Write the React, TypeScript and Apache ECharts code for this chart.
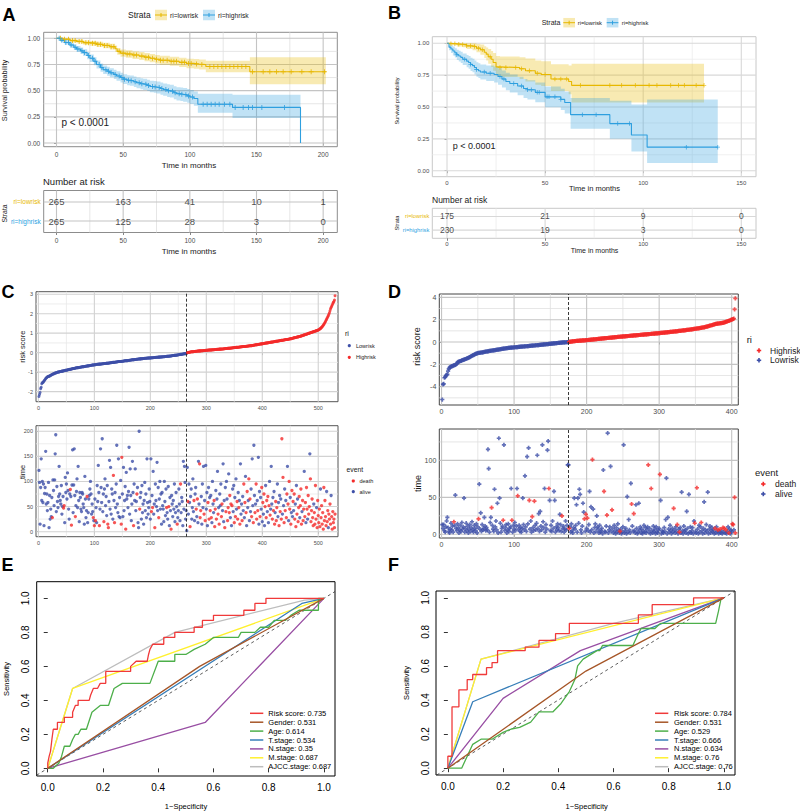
import React, { useEffect, useRef } from "react";
import * as echarts from "echarts";

const FONT = '"Liberation Sans", Arial, Helvetica, sans-serif';
const ORANGE = "#E7B800";
const BLUE = "#2E9FDF";
const ORANGE_F = "rgba(231,184,0,0.3)";
const BLUE_F = "rgba(46,159,223,0.3)";
const SRED = "#F42A2A";
const SBLUE = "#3D4FA8";

// ---------- Panel A: KM (TCGA) ----------
const aLowT = [0, 5, 10, 15, 20, 25, 30, 35, 40, 44, 45.5, 48, 52, 57, 62, 66, 70, 74, 77.5, 85, 92, 97.5, 103, 107, 112, 145];
const aLowS = [1, 0.99, 0.978, 0.97, 0.958, 0.952, 0.942, 0.932, 0.92, 0.9, 0.875, 0.858, 0.85, 0.84, 0.83, 0.82, 0.81, 0.8, 0.79, 0.78, 0.77, 0.76, 0.755, 0.75, 0.73, 0.68];
const aLowLo = [1, 0.978, 0.962, 0.952, 0.938, 0.928, 0.917, 0.905, 0.892, 0.868, 0.842, 0.823, 0.814, 0.803, 0.792, 0.781, 0.77, 0.759, 0.748, 0.737, 0.726, 0.715, 0.708, 0.702, 0.675, 0.56];
const aLowHi = [1, 1, 0.994, 0.988, 0.978, 0.975, 0.967, 0.958, 0.948, 0.932, 0.908, 0.893, 0.886, 0.877, 0.868, 0.859, 0.85, 0.841, 0.832, 0.823, 0.814, 0.805, 0.802, 0.798, 0.785, 0.82];
const aLowEnd = 202;
const aLowCens = [3, 6, 9, 12, 14, 17, 19, 22, 24, 27, 29, 31, 33, 36, 38, 41, 43, 47, 50, 53, 55, 58, 60, 64, 67, 69, 72, 75, 78, 80, 83, 86, 88, 90, 94, 96, 99, 101, 105, 109, 115, 118, 121, 124, 127, 130, 133, 136, 139, 142, 147, 155, 160, 165, 170, 176, 184, 191, 201];

const aHighT = [0, 3, 6, 10, 13, 15, 18, 20, 23, 25, 28, 30, 33, 35, 38, 40, 43, 45, 48, 50, 53, 55, 58, 60, 63, 65, 68, 70, 73, 75, 78, 80, 83, 85, 88, 90, 93, 95, 98, 100, 103, 106, 132, 183];
const aHighS = [1, 0.98, 0.96, 0.936, 0.915, 0.898, 0.88, 0.863, 0.835, 0.81, 0.78, 0.75, 0.72, 0.7, 0.685, 0.67, 0.655, 0.64, 0.625, 0.61, 0.6, 0.595, 0.585, 0.575, 0.566, 0.56, 0.55, 0.54, 0.535, 0.53, 0.52, 0.51, 0.5, 0.495, 0.48, 0.47, 0.465, 0.46, 0.45, 0.44, 0.425, 0.37, 0.34, 0];
const aHighLo = [1, 0.965, 0.94, 0.912, 0.888, 0.869, 0.849, 0.83, 0.8, 0.774, 0.742, 0.711, 0.68, 0.659, 0.643, 0.627, 0.611, 0.595, 0.579, 0.563, 0.552, 0.546, 0.535, 0.524, 0.514, 0.507, 0.496, 0.485, 0.479, 0.473, 0.462, 0.451, 0.44, 0.434, 0.418, 0.407, 0.401, 0.395, 0.384, 0.373, 0.357, 0.29, 0.24, 0];
const aHighHi = [1, 0.995, 0.98, 0.96, 0.942, 0.927, 0.911, 0.896, 0.87, 0.846, 0.818, 0.789, 0.76, 0.741, 0.727, 0.713, 0.699, 0.685, 0.671, 0.657, 0.648, 0.644, 0.635, 0.626, 0.618, 0.613, 0.604, 0.595, 0.591, 0.587, 0.578, 0.569, 0.56, 0.556, 0.542, 0.533, 0.529, 0.525, 0.516, 0.507, 0.493, 0.47, 0.46, 0];
const aHighEnd = 183;
const aHighCens = [2, 4, 7, 9, 11, 14, 16, 19, 21, 24, 27, 29, 32, 34, 37, 39, 41, 44, 47, 49, 51, 54, 56, 59, 62, 64, 67, 69, 72, 74, 77, 79, 82, 84, 87, 89, 92, 94, 97, 99, 102, 110, 113, 116, 119, 122, 126, 130, 134, 140, 144, 147, 154, 171];

const aTblT = [0, 50, 100, 150, 200];
const aTblLow = [265, 163, 41, 10, 1];
const aTblHigh = [265, 125, 28, 3, 0];

// ---------- Panel B: KM (validation) ----------
const bLowT = [0, 2, 5, 8, 10, 13, 15, 17, 19, 20, 21, 22.5, 23.5, 25, 27, 37, 40, 45, 48, 53, 62, 63.5];
const bLowS = [1, 0.997, 0.993, 0.99, 0.98, 0.975, 0.962, 0.95, 0.93, 0.915, 0.895, 0.875, 0.85, 0.815, 0.81, 0.8, 0.785, 0.765, 0.755, 0.72, 0.7, 0.67];
const bLowLo = [1, 0.985, 0.975, 0.97, 0.955, 0.945, 0.93, 0.91, 0.885, 0.865, 0.84, 0.815, 0.785, 0.745, 0.735, 0.72, 0.7, 0.675, 0.665, 0.625, 0.6, 0.535];
const bLowHi = [1, 1, 1, 1, 1, 1, 0.995, 0.99, 0.978, 0.968, 0.955, 0.94, 0.925, 0.9, 0.897, 0.89, 0.88, 0.865, 0.86, 0.835, 0.825, 0.84];
const bLowEnd = 131;
const bLowCens = [2, 4, 6, 8, 10, 12, 14, 16, 18, 22, 27, 30, 35, 38, 42, 46, 50, 55, 58, 61, 68, 83, 89, 96, 103, 107, 114, 118, 121, 127, 131];

const bHighT = [0, 1, 2, 3, 4, 5, 6, 7, 8, 10, 11, 12, 13, 14, 15, 16, 17, 20, 24, 26, 28, 30, 32, 36, 39, 41, 45, 50, 58, 60, 63, 83, 94, 102];
const bHighS = [1, 0.97, 0.955, 0.94, 0.925, 0.91, 0.9, 0.89, 0.875, 0.86, 0.85, 0.835, 0.825, 0.81, 0.795, 0.785, 0.775, 0.765, 0.755, 0.74, 0.72, 0.7, 0.685, 0.665, 0.645, 0.635, 0.615, 0.58, 0.56, 0.535, 0.44, 0.37, 0.28, 0.185];
const bHighLo = [1, 0.945, 0.925, 0.905, 0.888, 0.87, 0.858, 0.846, 0.829, 0.812, 0.8, 0.783, 0.772, 0.755, 0.738, 0.727, 0.716, 0.704, 0.692, 0.675, 0.653, 0.631, 0.614, 0.592, 0.57, 0.559, 0.537, 0.499, 0.477, 0.45, 0.33, 0.25, 0.15, 0.06];
const bHighHi = [1, 0.995, 0.985, 0.975, 0.962, 0.95, 0.942, 0.934, 0.921, 0.908, 0.9, 0.887, 0.878, 0.865, 0.852, 0.843, 0.834, 0.826, 0.818, 0.805, 0.787, 0.769, 0.756, 0.738, 0.72, 0.711, 0.693, 0.661, 0.643, 0.62, 0.57, 0.55, 0.52, 0.56];
const bHighEnd = 138;
const bHighCens = [5, 9, 12, 15, 19, 22, 27, 29, 34, 38, 41, 43, 46, 47, 51, 52, 55, 58, 69, 76, 87, 93, 122, 138];

const bTblT = [0, 50, 100, 150];
const bTblLow = [175, 21, 9, 0];
const bTblHigh = [230, 19, 3, 0];

// ---------- Panel C: risk score / survival time (TCGA) ----------
const cLowCount = 265;
const cRisk = [
  -2.25, -2.15, -2.05, -1.85, -1.78, -1.6, -1.55, -1.53, -1.5, -1.46,
  -1.42, -1.38, -1.33, -1.3, -1.27, -1.25, -1.23, -1.22, -1.21, -1.2,
  -1.18, -1.16, -1.15, -1.13, -1.12, -1.1, -1.09, -1.08, -1.06, -1.05,
  -1.04, -1.03, -1.02, -1.01, -1.0, -0.99, -0.99, -0.98, -0.97, -0.97,
  -0.96, -0.95, -0.95, -0.94, -0.93, -0.93, -0.92, -0.91, -0.91, -0.9,
  -0.89, -0.89, -0.88, -0.87, -0.87, -0.86, -0.85, -0.85, -0.84, -0.83,
  -0.83, -0.82, -0.81, -0.81, -0.8, -0.79, -0.79, -0.78, -0.78, -0.77,
  -0.77, -0.76, -0.76, -0.75, -0.75, -0.74, -0.74, -0.73, -0.73, -0.72,
  -0.72, -0.71, -0.71, -0.7, -0.7, -0.69, -0.69, -0.68, -0.68, -0.67,
  -0.67, -0.66, -0.66, -0.65, -0.65, -0.64, -0.64, -0.63, -0.63, -0.62,
  -0.62, -0.62, -0.61, -0.61, -0.6, -0.6, -0.6, -0.59, -0.59, -0.59,
  -0.58, -0.58, -0.58, -0.57, -0.57, -0.57, -0.56, -0.56, -0.56, -0.56,
  -0.55, -0.55, -0.54, -0.54, -0.54, -0.53, -0.53, -0.52, -0.52, -0.52,
  -0.51, -0.51, -0.5, -0.5, -0.5, -0.49, -0.49, -0.48, -0.48, -0.48,
  -0.47, -0.47, -0.46, -0.46, -0.46, -0.45, -0.45, -0.45, -0.44, -0.44,
  -0.44, -0.43, -0.43, -0.42, -0.42, -0.42, -0.41, -0.41, -0.41, -0.4,
  -0.4, -0.39, -0.39, -0.39, -0.38, -0.38, -0.37, -0.37, -0.37, -0.36,
  -0.36, -0.35, -0.35, -0.35, -0.34, -0.34, -0.34, -0.33, -0.33, -0.33,
  -0.32, -0.32, -0.32, -0.31, -0.31, -0.31, -0.3, -0.3, -0.3, -0.29,
  -0.29, -0.29, -0.29, -0.28, -0.28, -0.28, -0.28, -0.27, -0.27, -0.27,
  -0.27, -0.26, -0.26, -0.26, -0.26, -0.25, -0.25, -0.25, -0.25, -0.24,
  -0.24, -0.24, -0.24, -0.23, -0.23, -0.23, -0.23, -0.22, -0.22, -0.22,
  -0.22, -0.21, -0.21, -0.21, -0.21, -0.2, -0.2, -0.2, -0.19, -0.19,
  -0.19, -0.18, -0.18, -0.18, -0.17, -0.17, -0.17, -0.16, -0.16, -0.15,
  -0.15, -0.15, -0.14, -0.14, -0.13, -0.13, -0.13, -0.12, -0.12, -0.11,
  -0.11, -0.1, -0.1, -0.09, -0.09, -0.08, -0.08, -0.07, -0.07, -0.06,
  -0.06, -0.05, -0.05, -0.04, -0.03,
  0.0, 0.01, 0.01, 0.02, 0.02, 0.03, 0.03, 0.04, 0.04, 0.05,
  0.05, 0.05, 0.06, 0.06, 0.06, 0.07, 0.07, 0.07, 0.08, 0.08,
  0.08, 0.09, 0.09, 0.09, 0.09, 0.1, 0.1, 0.1, 0.1, 0.11,
  0.11, 0.11, 0.11, 0.12, 0.12, 0.12, 0.12, 0.13, 0.13, 0.13,
  0.13, 0.14, 0.14, 0.14, 0.14, 0.15, 0.15, 0.15, 0.15, 0.16,
  0.16, 0.16, 0.16, 0.17, 0.17, 0.17, 0.17, 0.18, 0.18, 0.18,
  0.18, 0.19, 0.19, 0.19, 0.19, 0.2, 0.2, 0.2, 0.21, 0.21,
  0.21, 0.21, 0.22, 0.22, 0.22, 0.23, 0.23, 0.23, 0.24, 0.24,
  0.24, 0.25, 0.25, 0.25, 0.26, 0.26, 0.26, 0.27, 0.27, 0.27,
  0.28, 0.28, 0.28, 0.29, 0.29, 0.29, 0.3, 0.3, 0.3, 0.31,
  0.31, 0.31, 0.32, 0.32, 0.32, 0.33, 0.33, 0.33, 0.34, 0.34,
  0.34, 0.35, 0.35, 0.35, 0.36, 0.36, 0.37, 0.37, 0.38, 0.38,
  0.39, 0.39, 0.4, 0.4, 0.41, 0.41, 0.42, 0.42, 0.43, 0.43,
  0.44, 0.44, 0.45, 0.45, 0.46, 0.46, 0.47, 0.47, 0.48, 0.48,
  0.49, 0.49, 0.5, 0.5, 0.51, 0.51, 0.52, 0.52, 0.53, 0.53,
  0.54, 0.54, 0.55, 0.55, 0.56, 0.56, 0.57, 0.57, 0.58, 0.58,
  0.59, 0.59, 0.6, 0.6, 0.61, 0.61, 0.62, 0.62, 0.63, 0.63,
  0.64, 0.64, 0.65, 0.65, 0.66, 0.66, 0.67, 0.67, 0.68, 0.68,
  0.69, 0.69, 0.7, 0.7, 0.71, 0.72, 0.72, 0.73, 0.74, 0.74,
  0.76, 0.76, 0.77, 0.78, 0.78, 0.79, 0.8, 0.8, 0.81, 0.82,
  0.83, 0.83, 0.84, 0.85, 0.86, 0.87, 0.88, 0.89, 0.9, 0.91,
  0.92, 0.93, 0.94, 0.95, 0.96, 0.97, 0.98, 0.99, 1.0, 1.01,
  1.02, 1.03, 1.04, 1.05, 1.06, 1.07, 1.08, 1.09, 1.1, 1.11,
  1.12, 1.13, 1.14, 1.15, 1.16, 1.18, 1.2, 1.22, 1.24, 1.27,
  1.3, 1.33, 1.37, 1.41, 1.45, 1.5, 1.55, 1.6, 1.66, 1.72,
  1.78, 1.84, 1.9, 1.97, 2.05, 2.15, 2.25, 2.32, 2.38, 2.45,
  2.52, 2.58, 2.63, 2.7, 2.92,
];
const cTime = [
  122, 98, 15, 88, 145, 62, 100, 58, 95, 12,
  76, 88, 160, 55, 75, 42, 58, 98, 8, 72,
  25, 45, 30, 68, 28, 103, 82, 52, 103, 155,
  193, 40, 90, 60, 48, 70, 130, 75, 62, 55,
  92, 35, 50, 70, 47, 52, 18, 108, 78, 95,
  65, 117, 82, 45, 25, 75, 84, 70, 13, 93,
  163, 38, 93, 165, 72, 30, 52, 80, 105, 48,
  130, 62, 20, 78, 68, 45, 40, 78, 75, 55,
  48, 15, 110, 65, 28, 42, 70, 18, 38, 65,
  72, 85, 100, 75, 35, 55, 40, 28, 22, 12,
  65, 22, 48, 18, 92, 60, 132, 78, 12, 45,
  165, 88, 58, 185, 40, 75, 20, 85, 105, 52,
  70, 32, 92, 15, 8, 60, 142, 45, 128, 35,
  85, 75, 25, 112, 62, 18, 78, 48, 95, 172,
  55, 38, 145, 30, 68, 28, 102, 15, 148, 75,
  30, 128, 42, 62, 90, 5, 118, 65, 72, 48,
  80, 168, 35, 125, 72, 22, 55, 140, 78, 12,
  95, 62, 125, 42, 60, 75, 88, 18, 8, 200,
  45, 68, 78, 25, 92, 38, 55, 15, 62, 98,
  42, 75, 28, 145, 58, 35, 48, 85, 60, 25,
  145, 40, 72, 48, 120, 35, 55, 8, 95, 62,
  50, 138, 42, 88, 28, 65, 100, 45, 75, 15,
  78, 52, 45, 20, 100, 60, 32, 85, 48, 38,
  25, 90, 50, 12, 68, 42, 5, 72, 55, 30,
  62, 45, 95, 20, 38, 78, 50, 15, 28, 42,
  85, 55, 22, 95, 38, 68, 60, 12, 140, 45,
  130, 98, 25, 42, 2,
  128, 60, 35, 95, 58, 10, 70, 85, 25, 48,
  105, 40, 62, 22, 75, 88, 45, 30, 65, 18,
  140, 55, 135, 28, 42, 70, 15, 95, 48, 130,
  35, 62, 22, 132, 45, 78, 12, 58, 88, 25,
  68, 42, 72, 28, 18, 100, 55, 38, 62, 10,
  45, 82, 25, 65, 120, 35, 48, 15, 75, 52,
  95, 30, 55, 42, 135, 20, 62, 8, 88, 40,
  100, 65, 22, 48, 115, 38, 72, 28, 55, 12,
  52, 85, 40, 92, 18, 68, 30, 105, 45, 60,
  25, 78, 48, 62, 15, 135, 35, 55, 22, 70,
  42, 95, 28, 58, 110, 38, 12, 80, 48, 62,
  105, 22, 65, 40, 85, 30, 145, 52, 18, 172,
  72, 38, 55, 95, 25, 62, 42, 148, 15, 80,
  30, 68, 45, 88, 20, 58, 35, 75, 12, 50,
  92, 28, 62, 40, 70, 18, 52, 100, 33, 45,
  130, 55, 25, 68, 42, 80, 15, 38, 60, 22,
  48, 95, 30, 58, 12, 72, 40, 65, 25, 185,
  35, 108, 52, 18, 85, 42, 62, 28, 75, 130,
  55, 22, 100, 45, 68, 15, 38, 82, 30, 60,
  42, 75, 25, 55, 10, 92, 35, 65, 20, 48,
  70, 28, 52, 85, 15, 40, 62, 22, 45, 120,
  30, 58, 18, 88, 45, 25, 72, 35, 50, 155,
  105, 20, 42, 65, 28, 12, 55, 38, 15, 92,
  25, 48, 8, 62, 32, 18, 45, 10, 85, 28,
  52, 15, 38, 5, 88, 22, 62, 30, 12, 80,
  20, 42, 8, 35, 25, 55, 15, 72, 30, 5,
  40, 18, 25, 8, 35,
];
// 1 = death, 0 = alive
const cEventRows = [
  "0000000000", "0000000000", "0000100000", "0000000000", "0000110000",
  "0000001010", "0000010000", "0000000000", "0000001000", "0000000101",
  "0100000010", "0000001000", "0001100000", "0001010000", "0000000110",
  "0000010000", "0000000001", "0000010000", "1000000000", "0000000000",
  "0101000100", "0000100000", "0000000010", "0010001000", "0000000100",
  "0001000000", "00000",
  "0100010000", "0010001010", "0011100000", "1010000101", "0101000011",
  "1010010100", "0110000101", "0011011010", "1000101001", "1010100010",
  "0101010100", "1010010010", "0101101000", "1001010101", "0110101010",
  "0010101011", "1000101011", "0101010110", "1011010101", "0110101011",
  "1011101110", "1101101110", "1111110111", "1011111101", "1111111110",
  "1101111011", "11111",
];

// ---------- Panel D: risk score / survival time (validation) ----------
const dLowCount = 175;
const dRisk = [
  -5.15, -3.8, -3.75, -3.2, -3.15, -3.0, -2.95, -2.9, -2.6, -2.4,
  -2.3, -2.25, -2.2, -2.18, -2.15, -2.12, -2.1, -2.08, -2.05, -2.0,
  -1.95, -1.82, -1.78, -1.76, -1.74, -1.7, -1.68, -1.65, -1.62, -1.6,
  -1.57, -1.55, -1.52, -1.5, -1.47, -1.44, -1.42, -1.38, -1.35, -1.3,
  -1.27, -1.23, -1.2, -1.17, -1.13, -1.1, -1.07, -1.04, -1.01, -0.99,
  -0.98, -0.97, -0.96, -0.95, -0.94, -0.93, -0.92, -0.9, -0.89, -0.87,
  -0.86, -0.85, -0.84, -0.83, -0.82, -0.8, -0.79, -0.78, -0.77, -0.76,
  -0.75, -0.74, -0.73, -0.72, -0.71, -0.7, -0.69, -0.68, -0.67, -0.65,
  -0.64, -0.63, -0.62, -0.61, -0.6, -0.59, -0.58, -0.57, -0.56, -0.55,
  -0.54, -0.53, -0.53, -0.52, -0.51, -0.5, -0.5, -0.49, -0.49, -0.48,
  -0.47, -0.47, -0.46, -0.45, -0.45, -0.44, -0.43, -0.43, -0.42, -0.42,
  -0.41, -0.4, -0.4, -0.39, -0.39, -0.38, -0.38, -0.37, -0.37, -0.36,
  -0.35, -0.35, -0.34, -0.33, -0.33, -0.32, -0.31, -0.31, -0.3, -0.29,
  -0.29, -0.28, -0.27, -0.27, -0.26, -0.25, -0.25, -0.24, -0.23, -0.23,
  -0.22, -0.21, -0.21, -0.2, -0.19, -0.19, -0.18, -0.17, -0.17, -0.16,
  -0.15, -0.15, -0.14, -0.13, -0.12, -0.12, -0.11, -0.1, -0.1, -0.09,
  -0.08, -0.08, -0.07, -0.06, -0.06, -0.05, -0.04, -0.04, -0.03, -0.03,
  -0.02, -0.02, -0.01, -0.01, 0.0,
  0.01, 0.02, 0.03, 0.04, 0.05, 0.06, 0.07, 0.08, 0.08, 0.09,
  0.1, 0.1, 0.11, 0.11, 0.12, 0.12, 0.13, 0.13, 0.14, 0.14,
  0.15, 0.15, 0.16, 0.17, 0.17, 0.18, 0.18, 0.19, 0.2, 0.2,
  0.21, 0.22, 0.22, 0.23, 0.24, 0.24, 0.25, 0.26, 0.26, 0.27,
  0.28, 0.28, 0.29, 0.3, 0.3, 0.31, 0.32, 0.32, 0.33, 0.34,
  0.34, 0.35, 0.36, 0.36, 0.37, 0.38, 0.38, 0.39, 0.4, 0.4,
  0.41, 0.42, 0.42, 0.43, 0.44, 0.44, 0.45, 0.46, 0.46, 0.47,
  0.47, 0.48, 0.48, 0.49, 0.5, 0.5, 0.51, 0.51, 0.52, 0.53,
  0.53, 0.54, 0.54, 0.55, 0.56, 0.56, 0.57, 0.57, 0.58, 0.59,
  0.59, 0.6, 0.6, 0.61, 0.62, 0.62, 0.63, 0.63, 0.64, 0.65,
  0.65, 0.66, 0.66, 0.67, 0.68, 0.68, 0.69, 0.69, 0.7, 0.71,
  0.71, 0.72, 0.72, 0.73, 0.74, 0.74, 0.75, 0.75, 0.76, 0.77,
  0.77, 0.78, 0.78, 0.79, 0.8, 0.8, 0.81, 0.82, 0.82, 0.83,
  0.84, 0.84, 0.85, 0.86, 0.86, 0.87, 0.88, 0.88, 0.89, 0.9,
  0.9, 0.91, 0.92, 0.93, 0.93, 0.94, 0.95, 0.96, 0.96, 0.97,
  0.98, 0.99, 1.0, 1.0, 1.01, 1.02, 1.03, 1.04, 1.05, 1.05,
  1.06, 1.07, 1.08, 1.09, 1.1, 1.1, 1.11, 1.12, 1.13, 1.14,
  1.15, 1.16, 1.17, 1.18, 1.19, 1.2, 1.21, 1.22, 1.23, 1.24,
  1.25, 1.26, 1.27, 1.28, 1.3, 1.31, 1.32, 1.34, 1.35, 1.37,
  1.38, 1.4, 1.42, 1.44, 1.46, 1.48, 1.5, 1.52, 1.54, 1.56,
  1.58, 1.6, 1.62, 1.63, 1.64, 1.65, 1.66, 1.67, 1.68, 1.69,
  1.7, 1.71, 1.72, 1.74, 1.76, 1.78, 1.8, 1.82, 1.85, 1.88,
  1.9, 1.92, 1.95, 1.98, 2.0, 2.03, 2.06, 2.1, 2.93, 3.9,
];
const dTime = [
  13, 8, 13, 5, 3, 10, 18, 23, 9, 4,
  2, 7, 15, 6, 11, 3, 17, 12, 53, 8,
  5, 14, 9, 2, 6, 12, 4, 16, 7, 10,
  49, 3, 8, 15, 5, 11, 2, 7, 13, 4,
  9, 17, 6, 3, 12, 8, 5, 14, 2, 10,
  21, 68, 7, 29, 4, 13, 6, 8, 23, 11,
  5, 9, 6, 115, 89, 3, 16, 23, 36, 12,
  7, 4, 61, 10, 18, 6, 42, 2, 130, 49,
  15, 3, 8, 11, 19, 121, 5, 9, 13, 2,
  6, 14, 4, 8, 10, 62, 19, 3, 12, 7,
  16, 5, 11, 62, 52, 7, 12, 4, 9, 3,
  8, 49, 13, 6, 79, 10, 4, 105, 14, 117,
  46, 7, 18, 3, 24, 9, 5, 45, 12, 6,
  15, 107, 8, 28, 4, 31, 11, 6, 121, 17,
  9, 62, 3, 13, 7, 114, 126, 62, 46, 5,
  12, 4, 18, 8, 58, 46, 3, 10, 6, 14,
  9, 5, 27, 13, 4, 25, 8, 11, 3, 7,
  18, 6, 12, 94, 94,
  8, 10, 3, 14, 5, 2, 9, 49, 7, 12,
  40, 3, 49, 15, 61, 54, 6, 2, 11, 42,
  30, 21, 4, 27, 8, 22, 5, 13, 58, 3,
  37, 6, 101, 34, 2, 9, 14, 4, 25, 10,
  7, 2, 12, 3, 5, 8, 1, 87, 58, 4,
  3, 11, 26, 137, 2, 6, 10, 92, 4, 33,
  8, 2, 12, 5, 1, 9, 3, 14, 6, 2,
  4, 7, 1, 3, 10, 121, 2, 5, 8, 1,
  51, 3, 20, 6, 2, 69, 41, 11, 4, 28,
  5, 2, 40, 8, 1, 3, 42, 6, 10, 2,
  7, 1, 4, 12, 3, 9, 2, 6, 10, 94,
  3, 8, 1, 62, 5, 2, 11, 4, 7, 1,
  10, 3, 2, 6, 8, 81, 46, 1, 5, 3,
  2, 9, 4, 20, 76, 1, 23, 7, 3, 12,
  5, 1, 8, 3, 35, 6, 2, 10, 4, 13,
  1, 7, 3, 9, 2, 57, 5, 1, 11, 4,
  6, 2, 31, 8, 1, 54, 3, 10, 2, 5,
  9, 1, 18, 15, 4, 2, 63, 7, 1, 12,
  3, 10, 16, 5, 1, 8, 44, 2, 6, 13,
  4, 57, 1, 7, 11, 2, 5, 9, 3, 6,
  1, 8, 2, 10, 4, 6, 1, 3, 7, 2,
  5, 1, 9, 3, 8, 2, 6, 1, 4, 10,
  2, 7, 1, 5, 3, 14, 13, 6, 50, 2,
];
const dEventRows = [
  "0000000000", "0000001000", "0000000000", "0000000000", "0000000000",
  "1000000000", "0000000010", "0000000000", "0000100000", "0000001000",
  "0000100000", "0000000000", "1000100100", "0000000000", "0000000100",
  "0000000000", "0000010000", "00000",
  "1000000000", "0000000000", "0101010000", "0010000000", "0000000010",
  "0010000001", "0000000000", "1000000000", "0000001001", "0000000000",
  "0000000001", "0001000000", "0000010000", "0000000000", "0000100001",
  "0010000000", "0000000000", "0001001000", "0010000000", "0000000000",
  "0100010010", "0010101000", "1000011011",
];

// ---------- Panels E/F: ROC ----------
const rocNames = ["Risk score", "Gender", "Age", "T.stage", "N.stage", "M.stage", "AJCC.stage"];
const rocColors = ["#F03A3A", "#A65628", "#4DAF4A", "#377EB8", "#984EA3", "#FFF02E", "#BDBDBD"];
const eAUC = ["0.735", "0.531", "0.614", "0.534", "0.35", "0.687", "0.687"];
const fAUC = ["0.784", "0.531", "0.529", "0.666", "0.634", "0.76", "0.76"];

const eRiskX = [0, 0, 0.005, 0.01, 0.015, 0.02, 0.035, 0.035, 0.06, 0.06, 0.09, 0.09, 0.1, 0.11, 0.11, 0.15, 0.155, 0.165, 0.18, 0.19, 0.21, 0.21, 0.3, 0.3, 0.32, 0.36, 0.365, 0.37, 0.38, 0.42, 0.42, 0.46, 0.46, 0.53, 0.53, 0.56, 0.56, 0.6, 0.6, 0.71, 0.71, 0.75, 0.75, 0.79, 0.79, 1];
const eRiskY = [0, 0.03, 0.07, 0.1, 0.17, 0.23, 0.23, 0.27, 0.27, 0.3, 0.3, 0.33, 0.37, 0.37, 0.4, 0.4, 0.43, 0.47, 0.47, 0.5, 0.5, 0.57, 0.57, 0.6, 0.63, 0.63, 0.67, 0.7, 0.73, 0.73, 0.77, 0.77, 0.8, 0.8, 0.83, 0.83, 0.87, 0.87, 0.9, 0.9, 0.93, 0.93, 0.97, 0.97, 1, 1];
const eGenderX = [0, 0.55, 1];
const eGenderY = [0, 0.6, 1];
const eAgeX = [0, 0.02, 0.04, 0.05, 0.06, 0.08, 0.09, 0.1, 0.11, 0.12, 0.14, 0.16, 0.19, 0.22, 0.24, 0.27, 0.37, 0.4, 0.46, 0.46, 0.5, 0.53, 0.57, 0.6, 0.69, 0.7, 0.75, 0.77, 0.8, 0.82, 0.86, 0.88, 0.91, 0.98, 0.98, 1];
const eAgeY = [0, 0, 0.03, 0.07, 0.13, 0.13, 0.17, 0.2, 0.2, 0.23, 0.23, 0.33, 0.37, 0.37, 0.47, 0.5, 0.5, 0.63, 0.63, 0.67, 0.67, 0.7, 0.73, 0.77, 0.77, 0.8, 0.8, 0.83, 0.83, 0.87, 0.87, 0.9, 0.93, 0.93, 1, 1];
const eTX = [0, 0.92, 1];
const eTY = [0, 0.97, 1];
const eNX = [0, 0.57, 1];
const eNY = [0, 0.27, 1];
const eMX = [0, 0.09, 1];
const eMY = [0, 0.47, 1];
const eAjccX = [0, 0.09, 0.46, 0.93, 1];
const eAjccY = [0, 0.47, 0.8, 0.99, 1];

const fRiskX = [0, 0, 0.015, 0.015, 0.04, 0.04, 0.07, 0.07, 0.09, 0.09, 0.14, 0.14, 0.16, 0.16, 0.18, 0.18, 0.28, 0.28, 0.33, 0.33, 0.39, 0.39, 0.44, 0.44, 0.69, 0.69, 0.74, 0.74, 0.89, 0.89, 1];
const fRiskY = [0, 0.07, 0.07, 0.36, 0.36, 0.46, 0.46, 0.52, 0.52, 0.55, 0.55, 0.59, 0.59, 0.62, 0.62, 0.69, 0.69, 0.71, 0.71, 0.75, 0.75, 0.79, 0.79, 0.85, 0.85, 0.9, 0.9, 0.96, 0.96, 1, 1];
const fGenderX = [0, 0.5, 1];
const fGenderY = [0, 0.57, 1];
const fAgeX = [0, 0.05, 0.07, 0.09, 0.12, 0.16, 0.2, 0.23, 0.26, 0.3, 0.33, 0.38, 0.41, 0.44, 0.46, 0.47, 0.49, 0.54, 0.55, 0.56, 0.67, 0.69, 0.7, 0.75, 0.77, 0.97, 0.98, 0.99, 1];
const fAgeY = [0, 0, 0.07, 0.14, 0.17, 0.17, 0.21, 0.23, 0.24, 0.27, 0.33, 0.33, 0.38, 0.45, 0.52, 0.6, 0.64, 0.69, 0.69, 0.72, 0.72, 0.79, 0.82, 0.82, 0.85, 0.85, 0.92, 1, 1];
const fTX = [0, 0.09, 1];
const fTY = [0, 0.39, 1];
const fNX = [0, 0.2, 0.48, 1];
const fNY = [0, 0.41, 0.69, 1];
const fMX = [0, 0.12, 1];
const fMY = [0, 0.64, 1];
const fAjccX = [0, 0.12, 0.6, 1];
const fAjccY = [0, 0.64, 0.85, 1];

// ---------- helpers ----------
type Pt = [number, number];
const zip = (xs: number[], ys: number[]): Pt[] => xs.map((x, i) => [x, ys[i]] as Pt);

function stepPath(ts: number[], ss: number[], end: number): Pt[] {
  const pts: Pt[] = [];
  for (let i = 0; i < ts.length; i++) {
    if (i > 0) pts.push([ts[i], ss[i - 1]]);
    pts.push([ts[i], ss[i]]);
  }
  if (end > ts[ts.length - 1]) pts.push([end, ss[ss.length - 1]]);
  return pts;
}
function bandPoly(ts: number[], lo: number[], hi: number[], end: number): Pt[] {
  const up: Pt[] = [];
  const dn: Pt[] = [];
  for (let i = 0; i < ts.length; i++) {
    const t1 = i + 1 < ts.length ? ts[i + 1] : end;
    if (t1 <= ts[i]) continue;
    up.push([ts[i], hi[i]], [t1, hi[i]]);
    dn.push([ts[i], lo[i]], [t1, lo[i]]);
  }
  return up.concat(dn.reverse());
}
function survAt(ts: number[], ss: number[], t: number): number {
  let v = ss[0];
  for (let i = 0; i < ts.length; i++) if (ts[i] <= t) v = ss[i];
  return v;
}
const PLUS = "path://M4,0H6V4H10V6H6V10H4V6H0V4H4Z";
const FATPLUS = "path://M3,0H7V3H10V7H7V10H3V7H0V3H3Z";

function ggX(gi: number, min: number, max: number, ticks: number[], fs: number, margin: number, fmt?: (v: number) => string) {
  return {
    type: "value",
    gridIndex: gi,
    min,
    max,
    splitLine: { show: false },
    axisLine: { show: false },
    axisTick: { show: true, customValues: ticks, length: 2.5, lineStyle: { color: "#333", width: 0.6 } },
    axisLabel: { show: true, customValues: ticks, fontSize: fs, color: "#4D4D4D", margin, fontFamily: FONT, formatter: fmt || ((v: number) => String(v)) },
  };
}
function ggY(gi: number, min: number, max: number, ticks: number[], fs: number, margin: number, fmt?: (v: number) => string, color = "#4D4D4D") {
  return {
    type: "value",
    gridIndex: gi,
    min,
    max,
    splitLine: { show: false },
    axisLine: { show: false },
    axisTick: { show: true, customValues: ticks, length: 2.5, lineStyle: { color: "#333", width: 0.6 } },
    axisLabel: { show: true, customValues: ticks, fontSize: fs, color, margin, fontFamily: FONT, formatter: fmt || ((v: number) => String(v)) },
  };
}
function baseAxis(gi: number, min: number, max: number, ticks: number[], rotate: number, margin: number) {
  return {
    type: "value",
    gridIndex: gi,
    min,
    max,
    splitLine: { show: false },
    axisLine: { show: false },
    axisTick: { show: true, customValues: ticks, length: 4, lineStyle: { color: "#000", width: 0.8 } },
    axisLabel: { show: true, customValues: ticks, rotate, fontSize: 10, color: "#000", margin, fontFamily: FONT, formatter: (v: number) => v.toFixed(1) },
  };
}

function txt(text: string, x: number, y: number, fs: number, o: any = {}) {
  return {
    type: "text",
    x,
    y,
    rotation: o.rot || 0,
    silent: true,
    z: 10,
    style: {
      text,
      fill: o.color || "#1A1A1A",
      fontSize: fs,
      fontFamily: FONT,
      fontWeight: o.bold ? "bold" : "normal",
      align: o.align || "left",
      verticalAlign: "middle",
    },
  };
}
function hline(x1: number, x2: number, y: number, color: string, w: number) {
  return { type: "line", silent: true, z: 10, shape: { x1, y1: y, x2, y2: y }, style: { stroke: color, lineWidth: w } };
}
function vline(x: number, y1: number, y2: number, color: string, w: number) {
  return { type: "line", silent: true, z: 10, shape: { x1: x, y1, x2: x, y2 }, style: { stroke: color, lineWidth: w } };
}

function kmSeries(gi: number, ts: number[], ss: number[], lo: number[], hi: number[], end: number, cens: number[], color: string, fill: string, psize: number) {
  const poly = bandPoly(ts, lo, hi, end);
  return [
    {
      type: "custom",
      xAxisIndex: gi,
      yAxisIndex: gi,
      silent: true,
      z: 2,
      data: [[0, 0]],
      renderItem: (_p: any, api: any) => ({
        type: "polygon",
        shape: { points: poly.map((p) => api.coord(p)) },
        style: { fill },
      }),
    },
    {
      type: "line",
      xAxisIndex: gi,
      yAxisIndex: gi,
      silent: true,
      z: 3,
      symbol: "none",
      data: stepPath(ts, ss, end),
      lineStyle: { color, width: 1.1 },
    },
    {
      type: "scatter",
      xAxisIndex: gi,
      yAxisIndex: gi,
      silent: true,
      z: 4,
      symbol: PLUS,
      symbolSize: psize,
      itemStyle: { color },
      data: cens.map((t) => [t, survAt(ts, ss, t)]),
    },
  ];
}
function tableSeries(gi: number, ts: number[], low: number[], high: number[], fs: number) {
  return {
    type: "scatter",
    xAxisIndex: gi,
    yAxisIndex: gi,
    silent: true,
    z: 4,
    symbolSize: 1,
    itemStyle: { color: "rgba(0,0,0,0)" },
    label: { show: true, position: "inside", formatter: (p: any) => String(p.value[2]), fontSize: fs, color: "#1A1A1A", fontFamily: FONT },
    data: ts.map((t, i) => [t, 2, low[i]]).concat(ts.map((t, i) => [t, 1, high[i]])),
  };
}
function kmLegend(x0: number, y: number, fsTitle: number, fs: number, keys: { x: number; lx: number; color: string; fill: string; label: string }[], w: number, h: number) {
  const els: any[] = [txt("Strata", x0, y, fsTitle)];
  keys.forEach((k) => {
    els.push({ type: "rect", silent: true, z: 10, shape: { x: k.x, y: y - h / 2, width: w, height: h }, style: { fill: k.fill } });
    els.push(hline(k.x, k.x + w, y, k.color, 1));
    els.push(vline(k.x + w / 2, y - 2, y + 2, k.color, 1));
    els.push(txt(k.label, k.lx, y, fs));
  });
  return els;
}

export default function App() {
  const ref = useRef<HTMLDivElement>(null);
  useEffect(() => {
    document.body.style.margin = "0";
    if (!ref.current) return;
    const chart = echarts.init(ref.current, null, { renderer: "svg" });

    const cEvent = cEventRows.join("").split("").map(Number);
    const dEvent = dEventRows.join("").split("").map(Number);

    const grids = [
      { left: 43.7, top: 32.3, width: 293.6, height: 114.4, borderColor: "#8C8C8C" }, // 0 A KM
      { left: 43.7, top: 190.5, width: 293.6, height: 42, borderColor: "#8C8C8C" }, // 1 A table
      { left: 432.3, top: 36.7, width: 323.7, height: 140, borderColor: "#C8C8C8" }, // 2 B KM
      { left: 432.3, top: 208.3, width: 323.7, height: 30, borderColor: "#C8C8C8" }, // 3 B table
      { left: 36, top: 291.7, width: 302, height: 110, borderColor: "#555" }, // 4 C top
      { left: 36, top: 425.7, width: 302, height: 111, borderColor: "#555" }, // 5 C bottom
      { left: 439.3, top: 294, width: 299, height: 111, borderColor: "#444" }, // 6 D top
      { left: 439.3, top: 429, width: 299, height: 109, borderColor: "#444" }, // 7 D bottom
      { left: 36.7, top: 581.7, width: 298.3, height: 194.3, borderColor: "#000" }, // 8 E
      { left: 436, top: 591, width: 299, height: 184, borderColor: "#000" }, // 9 F
    ].map((g) => ({ ...g, show: true, borderWidth: 1, backgroundColor: "transparent", containLabel: false }));

    const f2 = (v: number) => v.toFixed(2);
    const tblLab = (v: number) => (v === 2 ? "{lo|ri=lowrisk}" : "{hi|ri=highrisk}");

    const R = {
      aX: [-9.6, 210.6], aY: [-0.035, 1.057], tY: [0.4, 2.6],
      bX: [-7.5, 157.5], bY: [-0.047, 1.052],
      cX: [-4.3, 535.3], cY1: [-2.52, 3.13], cY2: [-10, 211],
      dX: [-3.1, 409.1], dY1: [-5.64, 4.3], dY2: [-5, 142.5],
    };

    const xAxis: any[] = [
      ggX(0, R.aX[0], R.aX[1], aTblT, 6.5, 4.5),
      ggX(1, R.aX[0], R.aX[1], aTblT, 6.5, 4.5),
      ggX(2, R.bX[0], R.bX[1], bTblT, 6, 3),
      ggX(3, R.bX[0], R.bX[1], bTblT, 6, 3),
      ggX(4, R.cX[0], R.cX[1], [0, 100, 200, 300, 400, 500], 5.5, 3),
      ggX(5, R.cX[0], R.cX[1], [0, 100, 200, 300, 400, 500], 5.5, 3),
      ggX(6, R.dX[0], R.dX[1], [0, 100, 200, 300, 400], 7, 3),
      ggX(7, R.dX[0], R.dX[1], [0, 100, 200, 300, 400], 7, 3),
      baseAxis(8, -0.04, 1.04, [0, 0.2, 0.4, 0.6, 0.8, 1], 0, 6),
      baseAxis(9, -0.043, 1.04, [0, 0.2, 0.4, 0.6, 0.8, 1], 0, 6),
    ];
    const tblY = (gi: number, fs: number) => {
      const ax: any = ggY(gi, R.tY[0], R.tY[1], [1, 2], fs, 3, tblLab);
      ax.axisLabel.rich = {
        lo: { color: ORANGE, fontSize: fs, fontFamily: FONT },
        hi: { color: BLUE, fontSize: fs, fontFamily: FONT },
      };
      return ax;
    };
    const yAxis: any[] = [
      ggY(0, R.aY[0], R.aY[1], [0, 0.25, 0.5, 0.75, 1], 6.5, 3.5, f2),
      tblY(1, 6.5),
      ggY(2, R.bY[0], R.bY[1], [0, 0.25, 0.5, 0.75, 1], 6, 3, f2),
      tblY(3, 5.8),
      ggY(4, R.cY1[0], R.cY1[1], [-2, -1, 0, 1, 2, 3], 5.5, 3),
      ggY(5, R.cY2[0], R.cY2[1], [0, 50, 100, 150, 200], 5.5, 3),
      ggY(6, R.dY1[0], R.dY1[1], [-4, -2, 0, 2, 4], 7, 3),
      ggY(7, R.dY2[0], R.dY2[1], [0, 50, 100], 7, 3),
      baseAxis(8, -0.045, 1.098, [0, 0.2, 0.4, 0.6, 0.8, 1], 90, 6),
      baseAxis(9, -0.04, 1.04, [0, 0.2, 0.4, 0.6, 0.8, 1], 90, 6),
    ];

    const kmYMaj = [0, 0.25, 0.5, 0.75, 1];
    const kmYMin = [0.125, 0.375, 0.625, 0.875];
    // [gridIndex, xRange, yRange, xMajor, xMinor, yMajor, yMinor, colMajor, colMinor]
    const gridSpecs: any[] = [
      [0, R.aX, R.aY, [0, 50, 100, 150, 200], [25, 75, 125, 175], kmYMaj, kmYMin, "#C4C4C4", "#E0E0E0"],
      [1, R.aX, R.tY, [0, 50, 100, 150, 200], [25, 75, 125, 175], [1, 2], [], "#C4C4C4", "#E0E0E0"],
      [2, R.bX, R.bY, [0, 50, 100, 150], [25, 75, 125], kmYMaj, kmYMin, "#D8D8D8", "#EBEBEB"],
      [3, R.bX, R.tY, [0, 50, 100, 150], [25, 75, 125], [1, 2], [], "#D8D8D8", "#EBEBEB"],
      [4, R.cX, R.cY1, [0, 100, 200, 300, 400, 500], [50, 150, 250, 350, 450], [-2, -1, 0, 1, 2, 3], [-1.5, -0.5, 0.5, 1.5, 2.5], "#D2D2D2", "#E8E8E8"],
      [5, R.cX, R.cY2, [0, 100, 200, 300, 400, 500], [50, 150, 250, 350, 450], [0, 50, 100, 150, 200], [25, 75, 125, 175], "#D2D2D2", "#E8E8E8"],
      [6, R.dX, R.dY1, [0, 100, 200, 300, 400], [50, 150, 250, 350], [-4, -2, 0, 2, 4], [-5, -3, -1, 1, 3], "#C4C4C4", "#E0E0E0"],
      [7, R.dX, R.dY2, [0, 100, 200, 300, 400], [50, 150, 250, 350], [0, 50, 100], [25, 75, 125], "#C4C4C4", "#E0E0E0"],
    ];

    const series: any[] = [];
    // A
    series.push(...kmSeries(0, aLowT, aLowS, aLowLo, aLowHi, aLowEnd, aLowCens, ORANGE, ORANGE_F, 5));
    series.push(...kmSeries(0, aHighT, aHighS, aHighLo, aHighHi, aHighEnd, aHighCens, BLUE, BLUE_F, 5));
    series.push(tableSeries(1, aTblT, aTblLow, aTblHigh, 9.5));
    // B
    series.push(...kmSeries(2, bLowT, bLowS, bLowLo, bLowHi, bLowEnd, bLowCens, ORANGE, ORANGE_F, 4.5));
    series.push(...kmSeries(2, bHighT, bHighS, bHighLo, bHighHi, bHighEnd, bHighCens, BLUE, BLUE_F, 4.5));
    series.push(tableSeries(3, bTblT, bTblLow, bTblHigh, 8.5));

    // C
    const cutLine = (v: number) => ({
      silent: true,
      z: 5,
      symbol: ["none", "none"],
      label: { show: false },
      animation: false,
      data: [{ xAxis: v, lineStyle: { color: "#222", width: 0.9, type: [3, 2] } }],
    });
    series.push({
      type: "scatter", xAxisIndex: 4, yAxisIndex: 4, silent: true, z: 3, symbolSize: 3, itemStyle: { color: SBLUE },
      data: cRisk.map((v, i) => [i + 1, v]).filter((_, i) => i < cLowCount),
      markLine: cutLine(cLowCount),
    });
    series.push({
      type: "scatter", xAxisIndex: 4, yAxisIndex: 4, silent: true, z: 3, symbolSize: 3, itemStyle: { color: SRED },
      data: cRisk.map((v, i) => [i + 1, v]).filter((_, i) => i >= cLowCount),
    });
    series.push({
      type: "scatter", xAxisIndex: 5, yAxisIndex: 5, silent: true, z: 3, symbolSize: 3.3, itemStyle: { color: SBLUE },
      data: cTime.map((v, i) => [i + 1, v]).filter((_, i) => cEvent[i] === 0),
      markLine: cutLine(cLowCount),
    });
    series.push({
      type: "scatter", xAxisIndex: 5, yAxisIndex: 5, silent: true, z: 3, symbolSize: 3.3, itemStyle: { color: SRED },
      data: cTime.map((v, i) => [i + 1, v]).filter((_, i) => cEvent[i] === 1),
    });
    // D
    series.push({
      type: "scatter", xAxisIndex: 6, yAxisIndex: 6, silent: true, z: 3, symbol: FATPLUS, symbolSize: 4.2, itemStyle: { color: SBLUE },
      data: dRisk.map((v, i) => [i + 1, v]).filter((_, i) => i < dLowCount),
      markLine: cutLine(dLowCount),
    });
    series.push({
      type: "scatter", xAxisIndex: 6, yAxisIndex: 6, silent: true, z: 3, symbol: FATPLUS, symbolSize: 4.2, itemStyle: { color: SRED },
      data: dRisk.map((v, i) => [i + 1, v]).filter((_, i) => i >= dLowCount),
    });
    series.push({
      type: "scatter", xAxisIndex: 7, yAxisIndex: 7, silent: true, z: 3, symbol: FATPLUS, symbolSize: 4.2, itemStyle: { color: SBLUE },
      data: dTime.map((v, i) => [i + 1, v]).filter((_, i) => dEvent[i] === 0),
      markLine: cutLine(dLowCount),
    });
    series.push({
      type: "scatter", xAxisIndex: 7, yAxisIndex: 7, silent: true, z: 3, symbol: FATPLUS, symbolSize: 4.2, itemStyle: { color: SRED },
      data: dTime.map((v, i) => [i + 1, v]).filter((_, i) => dEvent[i] === 1),
    });

    // E / F
    const rocLine = (gi: number, xs: number[], ys: number[], color: string, z: number) => ({
      type: "line", xAxisIndex: gi, yAxisIndex: gi, silent: true, symbol: "none", z,
      data: zip(xs, ys), lineStyle: { color, width: 1.3 },
    });
    const diag = (gi: number) => ({
      type: "line", xAxisIndex: gi, yAxisIndex: gi, silent: true, symbol: "none", z: 2,
      data: [[-0.04, -0.04], [1.04, 1.04]], lineStyle: { color: "#333", width: 0.8, type: [3, 3] },
    });
    const eSets = [[eRiskX, eRiskY], [eGenderX, eGenderY], [eAgeX, eAgeY], [eTX, eTY], [eNX, eNY], [eMX, eMY], [eAjccX, eAjccY]];
    const fSets = [[fRiskX, fRiskY], [fGenderX, fGenderY], [fAgeX, fAgeY], [fTX, fTY], [fNX, fNY], [fMX, fMY], [fAjccX, fAjccY]];
    series.push(diag(8), diag(9));
    eSets.forEach((s, i) => series.push(rocLine(8, s[0], s[1], rocColors[i], 10 - i)));
    fSets.forEach((s, i) => series.push(rocLine(9, s[0], s[1], rocColors[i], 10 - i)));

    // graphic texts & legends
    const g: any[] = [];
    g.push(txt("A", 2.5, 14.5, 18, { bold: true, color: "#000" }));
    g.push(txt("B", 388, 13, 18, { bold: true, color: "#000" }));
    g.push(txt("C", 1.5, 291.5, 18, { bold: true, color: "#000" }));
    g.push(txt("D", 388, 291.5, 18, { bold: true, color: "#000" }));
    g.push(txt("E", 1.5, 565, 18, { bold: true, color: "#000" }));
    g.push(txt("F", 388, 565, 18, { bold: true, color: "#000" }));
    // A
    g.push(...kmLegend(128, 15, 8.5, 6.7, [
      { x: 155, lx: 170, color: ORANGE, fill: ORANGE_F, label: "ri=lowrisk" },
      { x: 203, lx: 218, color: BLUE, fill: BLUE_F, label: "ri=highrisk" },
    ], 12, 10.5));
    g.push(txt("Survival probability", 4.5, 90.5, 7.3, { rot: Math.PI / 2, align: "center" }));
    g.push(txt("Time in months", 189, 165, 8, { align: "center" }));
    g.push(txt("p < 0.0001", 61.5, 122.5, 10));
    g.push(txt("Number at risk", 43, 181.7, 9.5));
    g.push(txt("Strata", 4.5, 213.5, 6.8, { rot: Math.PI / 2, align: "center" }));
    g.push(txt("Time in months", 189, 251.7, 8, { align: "center" }));
    // B
    g.push(...kmLegend(541.7, 22.7, 7, 5.8, [
      { x: 563.3, lx: 577.7, color: ORANGE, fill: ORANGE_F, label: "ri=lowrisk" },
      { x: 606.7, lx: 621.7, color: BLUE, fill: BLUE_F, label: "ri=highrisk" },
    ], 11.7, 9.5));
    g.push(txt("Survival probability", 397, 101, 5.6, { rot: Math.PI / 2, align: "center" }));
    g.push(txt("Time in months", 594.5, 188.3, 7.5, { align: "center" }));
    g.push(txt("p < 0.0001", 452.7, 145.7, 9));
    g.push(txt("Number at risk", 432, 200, 8.5));
    g.push(txt("Strata", 397, 223, 5.6, { rot: Math.PI / 2, align: "center" }));
    g.push(txt("Time in months", 594.5, 250, 7, { align: "center" }));
    // C
    g.push(txt("risk score", 22.5, 346.7, 7.5, { rot: Math.PI / 2, align: "center" }));
    g.push(txt("time", 22.5, 472, 7.5, { rot: Math.PI / 2, align: "center" }));
    g.push(txt("ri", 345, 333.3, 7));
    g.push({ type: "circle", silent: true, z: 10, shape: { cx: 349.3, cy: 345.7, r: 1.6 }, style: { fill: SBLUE } });
    g.push(txt("Lowrisk", 356, 345.7, 5.5));
    g.push({ type: "circle", silent: true, z: 10, shape: { cx: 349.3, cy: 357.3, r: 1.6 }, style: { fill: SRED } });
    g.push(txt("Highrisk", 356, 357.3, 5.5));
    g.push(txt("event", 346.5, 469, 6.8));
    g.push({ type: "circle", silent: true, z: 10, shape: { cx: 353.3, cy: 481, r: 1.6 }, style: { fill: SRED } });
    g.push(txt("death", 359.5, 481, 5.5));
    g.push({ type: "circle", silent: true, z: 10, shape: { cx: 353.3, cy: 491.7, r: 1.6 }, style: { fill: SBLUE } });
    g.push(txt("alive", 359.5, 491.7, 5.5));
    // D
    g.push(txt("risk score", 417, 346.5, 9, { rot: Math.PI / 2, align: "center" }));
    g.push(txt("time", 418, 483.5, 9, { rot: Math.PI / 2, align: "center" }));
    g.push(txt("ri", 746.7, 339.3, 9.5));
    const dKey = (cx: number, cy: number, color: string) => [hline(cx - 2.2, cx + 2.2, cy, color, 1.6), vline(cx, cy - 2.2, cy + 2.2, color, 1.6)];
    g.push(...dKey(759, 350.5, SRED));
    g.push(txt("Highrisk", 770, 350.5, 8.5));
    g.push(...dKey(759, 360.3, SBLUE));
    g.push(txt("Lowrisk", 770, 360.3, 8.5));
    g.push(txt("event", 755, 472.7, 9.5));
    g.push(...dKey(763.3, 484, SRED));
    g.push(txt("death", 775, 484, 8.5));
    g.push(...dKey(763.3, 494, SBLUE));
    g.push(txt("alive", 775, 494, 8.5));
    // E / F
    g.push(txt("Sensitivity", 6, 679, 7.5, { rot: Math.PI / 2, align: "center", color: "#000" }));
    g.push(txt("1\u2212Specificity", 186, 806, 7.5, { align: "center", color: "#000" }));
    g.push(txt("Sensitivity", 406, 683, 7.5, { rot: Math.PI / 2, align: "center", color: "#000" }));
    g.push(txt("1\u2212Specificity", 586.7, 806, 7.5, { align: "center", color: "#000" }));
    rocNames.forEach((n, i) => {
      const y = 713.3 + i * 8.9;
      g.push(hline(250, 263.3, y, rocColors[i], 1.5));
      g.push(txt(n + ": " + eAUC[i], 268.3, y, 7.5, { color: "#000" }));
      g.push(hline(655, 668.3, y, rocColors[i], 1.5));
      g.push(txt(n + ": " + fAUC[i], 674, y, 7.5, { color: "#000" }));
    });

    // first pass: axes and marks
    chart.setOption({
      animation: false,
      backgroundColor: "#ffffff",
      textStyle: { fontFamily: FONT },
      grid: grids,
      xAxis,
      yAxis,
      series,
    });

    // gridlines: pixel positions from the chart's own axis scales
    const gl: any[] = [];
    try {
      gridSpecs.forEach(([gi, xr, yr, xMaj, xMin, yMaj, yMin, cMaj, cMin]) => {
        const px = (x: number, y: number) => chart.convertToPixel({ gridIndex: gi } as any, [x, y]) as unknown as number[];
        const add = (a: number[], b: number[], c: string, w: number) => {
          if (!a || !b) return;
          gl.push({ type: "line", silent: true, z: 1, shape: { x1: a[0], y1: a[1], x2: b[0], y2: b[1] }, style: { stroke: c, lineWidth: w } });
        };
        xMin.forEach((v: number) => add(px(v, yr[0]), px(v, yr[1]), cMin, 0.8));
        yMin.forEach((v: number) => add(px(xr[0], v), px(xr[1], v), cMin, 0.8));
        xMaj.forEach((v: number) => add(px(v, yr[0]), px(v, yr[1]), cMaj, 1.1));
        yMaj.forEach((v: number) => add(px(xr[0], v), px(xr[1], v), cMaj, 1.1));
      });
    } catch (e) {
      // ignore
    }

    chart.setOption({
      graphic: { elements: [...gl, ...g] },
    });

    return () => chart.dispose();
  }, []);
  return <div ref={ref} style={{ width: 800, height: 811 }} />;
}
